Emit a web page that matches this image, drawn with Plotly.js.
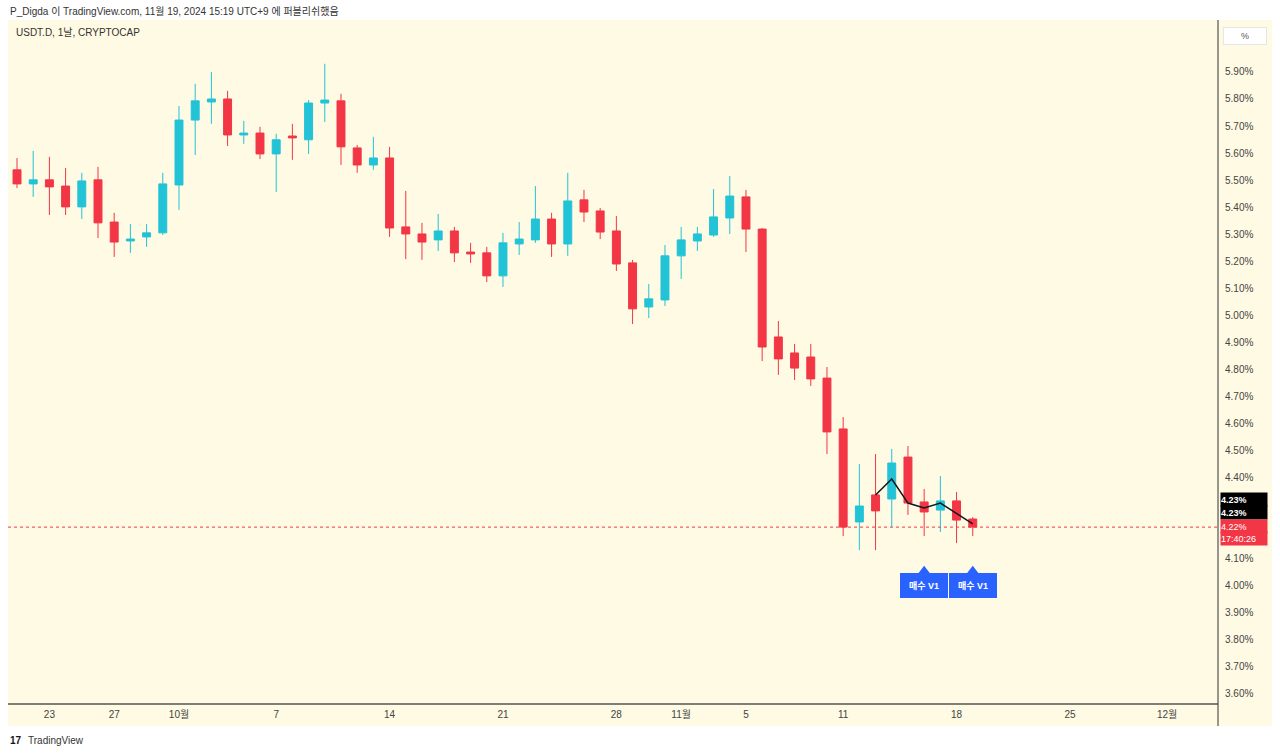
<!DOCTYPE html>
<html>
<head>
<meta charset="utf-8">
<script src="https://cdn.plot.ly/plotly-3.0.1.min.js"></script>
<style>
html,body{margin:0;padding:0;background:#ffffff;}
#chart{width:1280px;height:754px;}
</style>
</head>
<body>
<div id="chart"></div>
<script>
// ---- data ----
const dates = [
 '2024-09-21','2024-09-22','2024-09-23','2024-09-24','2024-09-25','2024-09-26','2024-09-27','2024-09-28','2024-09-29','2024-09-30',
 '2024-10-01','2024-10-02','2024-10-03','2024-10-04','2024-10-05','2024-10-06','2024-10-07','2024-10-08','2024-10-09','2024-10-10',
 '2024-10-11','2024-10-12','2024-10-13','2024-10-14','2024-10-15','2024-10-16','2024-10-17','2024-10-18','2024-10-19','2024-10-20',
 '2024-10-21','2024-10-22','2024-10-23','2024-10-24','2024-10-25','2024-10-26','2024-10-27','2024-10-28','2024-10-29','2024-10-30',
 '2024-10-31','2024-11-01','2024-11-02','2024-11-03','2024-11-04','2024-11-05','2024-11-06','2024-11-07','2024-11-08','2024-11-09',
 '2024-11-10','2024-11-11','2024-11-12','2024-11-13','2024-11-14','2024-11-15','2024-11-16','2024-11-17','2024-11-18','2024-11-19'
];
const openVals = [5.538,5.486,5.501,5.478,5.401,5.501,5.345,5.275,5.290,5.305,
 5.482,5.722,5.789,5.800,5.667,5.674,5.597,5.663,5.649,5.785,
 5.793,5.619,5.556,5.582,5.327,5.301,5.279,5.312,5.234,5.231,
 5.146,5.264,5.279,5.356,5.264,5.427,5.386,5.312,5.194,5.031,
 5.057,5.220,5.275,5.297,5.360,5.438,5.319,4.920,4.861,4.846,
 4.768,4.580,4.236,4.336,4.321,4.476,4.310,4.280,4.314,4.247];
const highVals = [5.582,5.608,5.586,5.545,5.527,5.549,5.379,5.338,5.338,5.527,
 5.774,5.856,5.900,5.830,5.719,5.697,5.671,5.708,5.796,5.930,
 5.819,5.630,5.660,5.623,5.460,5.342,5.375,5.327,5.268,5.253,
 5.305,5.345,5.478,5.379,5.527,5.464,5.397,5.367,5.205,5.116,
 5.260,5.327,5.327,5.467,5.515,5.464,5.322,4.979,4.894,4.894,
 4.809,4.624,4.450,4.487,4.506,4.517,4.358,4.406,4.347,4.254];
const lowVals = [5.471,5.438,5.371,5.371,5.356,5.286,5.216,5.231,5.253,5.297,
 5.390,5.593,5.708,5.626,5.634,5.578,5.456,5.575,5.597,5.715,
 5.556,5.527,5.538,5.290,5.208,5.205,5.238,5.197,5.194,5.123,
 5.105,5.223,5.268,5.216,5.220,5.345,5.282,5.164,4.968,4.990,
 5.035,5.135,5.238,5.290,5.301,5.234,4.831,4.780,4.761,4.739,
 4.487,4.184,4.132,4.132,4.217,4.262,4.184,4.199,4.158,4.184];
const closeVals = [5.486,5.501,5.475,5.401,5.497,5.342,5.271,5.282,5.305,5.486,
 5.722,5.793,5.800,5.667,5.674,5.597,5.649,5.656,5.785,5.796,
 5.623,5.556,5.582,5.323,5.301,5.271,5.312,5.231,5.227,5.146,
 5.268,5.282,5.356,5.264,5.423,5.382,5.308,5.190,5.024,5.061,
 5.220,5.279,5.301,5.364,5.441,5.319,4.883,4.839,4.805,4.765,
 4.569,4.217,4.295,4.277,4.454,4.306,4.273,4.314,4.243,4.217];

// indicator line (black)
const lineDates = ['2024-11-13','2024-11-14','2024-11-15','2024-11-16','2024-11-17','2024-11-18','2024-11-19'];
const lineVals  = [4.336,4.395,4.306,4.288,4.306,4.266,4.229];

// buy signals
const signalDates = ['2024-11-16','2024-11-19'];
const signalVals  = [4.052,4.052];
const signalText  = '매수 V1';
const signalTextVals = [4.000,4.000];

const lastPrice = 4.217;
const priceLabels = ['4.23%','4.23%'];
const lastLabels = ['4.22%','17:40:26'];

// axis ticks (4.20% and 4.30% are covered by the price labels in the reference)
const yTickVals = [3.6,3.7,3.8,3.9,4.0,4.1,4.4,4.5,4.6,4.7,4.8,4.9,5.0,5.1,5.2,5.3,5.4,5.5,5.6,5.7,5.8,5.9];
const yTickText = yTickVals.map(v => v.toFixed(2) + '%');
const xTickVals = ['2024-09-23','2024-09-27','2024-10-01','2024-10-07','2024-10-14','2024-10-21','2024-10-28','2024-11-01','2024-11-05','2024-11-11','2024-11-18','2024-11-25','2024-12-01'];
const xTickText = ['23','27','10월','7','14','21','28','11월','5','11','18','25','12월'];

// ---- drawing ----
const UP = '#22c3d6', DOWN = '#f23645', CREAM = '#fffae3';
const FONT = 'Liberation Sans, Noto Sans CJK KR, sans-serif';

const W = 1280, H = 754, L = 8, R = 62, T = 20, B = 50;
const pw = W - L - R, ph = H - T - B;
const px = x => (x - L) / pw;
const py = y => (H - B - y) / ph;

const traces = [
  {
    type: 'scatter', mode: 'lines', x: lineDates, y: lineVals,
    line: {color: '#131722', width: 1.5}, hoverinfo: 'skip', showlegend: false
  },
  {
    type: 'candlestick', x: dates, open: openVals, high: highVals, low: lowVals, close: closeVals,
    increasing: {line: {color: UP, width: 1}, fillcolor: UP},
    decreasing: {line: {color: DOWN, width: 1}, fillcolor: DOWN},
    whiskerwidth: 0, showlegend: false
  },
  {
    type: 'scatter', mode: 'markers', x: signalDates, y: signalVals,
    marker: {symbol: 'triangle-up', size: 12, color: '#2962ff'},
    hoverinfo: 'skip', showlegend: false
  }
];

const annotations = [
  {xref:'paper', yref:'paper', x: px(8), y: py(11), xanchor:'left', yanchor:'middle',
   text:'P_Digda 이 TradingView.com, 11월 19, 2024 15:19 UTC+9 에 퍼블리쉬했음', showarrow:false,
   font:{family:FONT, size:10, color:'#333333'}},
  {xref:'paper', yref:'paper', x: px(14), y: py(33), xanchor:'left', yanchor:'middle',
   text:'USDT.D, 1날, CRYPTOCAP', showarrow:false,
   font:{family:FONT, size:10, color:'#333333'}},
  {xref:'paper', yref:'paper', x: px(26), y: py(740), xanchor:'left', yanchor:'middle',
   text:'TradingView', showarrow:false,
   font:{family:FONT, size:10, color:'#333333'}},
  {xref:'paper', yref:'paper', x: px(8), y: py(740), xanchor:'left', yanchor:'middle',
   text:'<b>17</b>', showarrow:false,
   font:{family:FONT, size:10, color:'#131722'}},
  {xref:'paper', yref:'paper', x: px(1245), y: py(36), xanchor:'center', yanchor:'middle',
   text:'%', showarrow:false, bgcolor:'#ffffff', bordercolor:'#e6e6e6', borderwidth:1,
   width: 40, height: 14, font:{family:FONT, size:9, color:'#555555'}}
];
const labelRows = [
  {t: priceLabels[0], y: 499.5, bg: '#000000', b: true},
  {t: priceLabels[1], y: 512, bg: '#000000', b: true},
  {t: lastLabels[0], y: 526, bg: DOWN, b: false},
  {t: lastLabels[1], y: 538.5, bg: DOWN, b: false}
];
labelRows.forEach(r => {
  annotations.push({xref:'paper', yref:'paper', x: px(1220), y: py(r.y), xanchor:'left', yanchor:'middle',
    text: r.b ? '<b>' + r.t + '</b>' : r.t, showarrow:false, bgcolor: r.bg, align:'left',
    borderpad: 0, width: 46, height: 13, font:{family:FONT, size:9, color:'#ffffff'}});
});
signalDates.forEach((d, i) => {
  annotations.push({xref:'x', yref:'y', x: d, y: signalTextVals[i], xanchor:'center', yanchor:'middle',
    text:'<b>' + signalText + '</b>', showarrow:false, bgcolor:'#2962ff', bordercolor:'#2962ff',
    borderpad:6, width: 34, font:{family:FONT, size:9, color:'#ffffff'}});
});

const shapes = [
  {type:'rect', xref:'paper', yref:'paper', x0: px(8), x1: px(1272), y0: py(726), y1: py(20),
   fillcolor: CREAM, line:{width:0}, layer:'below'},
  {type:'line', xref:'paper', yref:'y', x0: 0, x1: 1, y0: lastPrice, y1: lastPrice,
   line:{color: DOWN, width: 1, dash:'dot'}},
  {type:'line', xref:'paper', yref:'paper', x0: 0, x1: 1, y0: 0, y1: 0,
   line:{color:'#555555', width:1.5}},
  {type:'line', xref:'paper', yref:'paper', x0: 1, x1: 1, y0: py(726), y1: py(20),
   line:{color:'#333333', width:1}}
];

const layout = {
  width: W, height: H,
  margin: {l: L, r: R, t: T, b: B},
  paper_bgcolor: '#ffffff', plot_bgcolor: CREAM,
  showlegend: false,
  xaxis: {
    type: 'date', range: ['2024-09-20 10:40', '2024-12-04 03:20'],
    rangeslider: {visible: false},
    tickvals: xTickVals, ticktext: xTickText, ticks: '', showgrid: false, zeroline: false,
    ticklabelstandoff: 3,
    tickfont: {family: FONT, size: 10, color: '#444444'}, fixedrange: true
  },
  yaxis: {
    side: 'right', range: [3.563, 6.092],
    tickvals: yTickVals, ticktext: yTickText, ticks: '', showgrid: false, zeroline: false,
    ticklabelstandoff: 6,
    tickfont: {family: FONT, size: 10, color: '#444444'}, fixedrange: true
  },
  annotations: annotations,
  shapes: shapes
};

Plotly.newPlot('chart', traces, layout, {displayModeBar: false, staticPlot: true});
</script>
</body>
</html>
